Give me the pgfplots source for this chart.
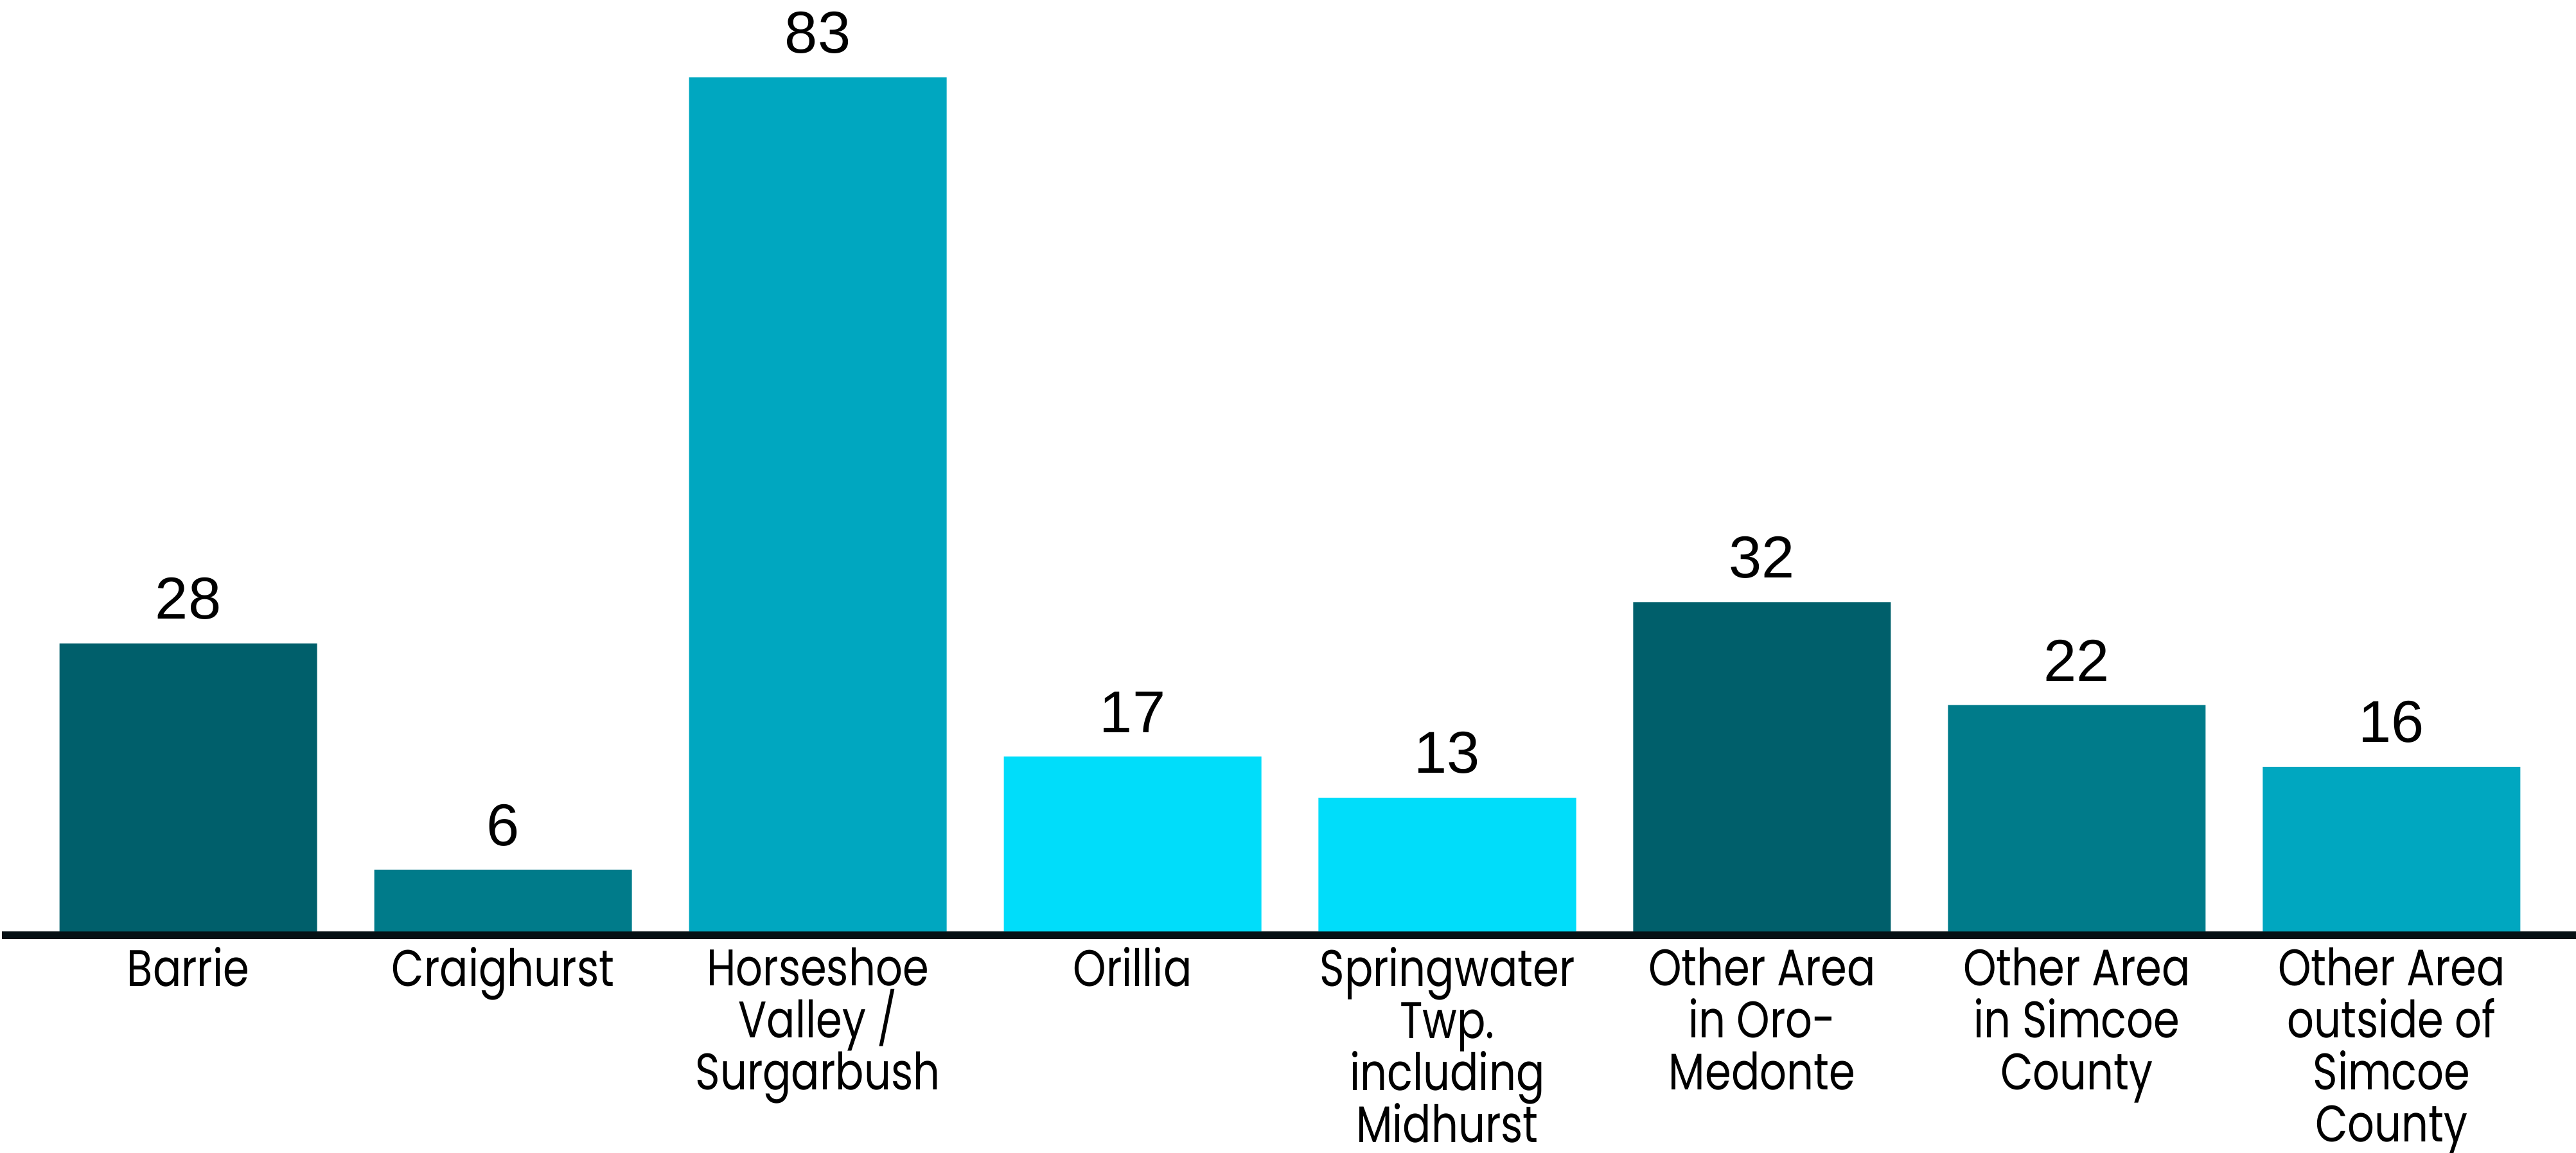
\documentclass[border=0pt]{standalone}
\usepackage{fontspec}
\setmainfont{Poppins}[FakeStretch=0.82]
\newfontfamily\numfont{Liberation Sans}
\usepackage{pgfplots}
\pgfplotsset{compat=1.18}
\definecolor{cdark}{HTML}{005F6B}
\definecolor{cmid}{HTML}{007B8A}
\definecolor{clight}{HTML}{00A7C0}
\definecolor{ccyan}{HTML}{00DDFA}
\definecolor{axisblack}{HTML}{061014}
\newcommand{\labfont}{\fontsize{16}{16.2}\selectfont\lineskiplimit=-30pt\relax}
\begin{document}
\begin{tikzpicture}
\begin{axis}[
 anchor=south west, at={(0pt,0pt)},
 scale only axis, width=801.4pt, height=291.2pt,
 xmin=-0.592, xmax=7.586, ymin=-0.37, ymax=90.52,
 axis x line=bottom, axis y line=none,
 axis line style={-, line width=2.4pt, color=axisblack},
 ybar, bar width=80.2pt, bar shift=0pt,
 xtick={0,...,7},
 xticklabels={Barrie, Craighurst, {Horseshoe\\Valley /\\Surgarbush}, Orillia, {Springwater\\Twp.\\including\\Midhurst}, {Other Area\\in Oro-\\Medonte}, {Other Area\\in Simcoe\\County}, {Other Area\\outside of\\Simcoe\\County}},
 major tick length=0pt,
 xticklabel style={align=center, anchor=north, inner sep=0pt, yshift=-3.6pt, font=\labfont, text=black},
 ytick=\empty,
 /pgf/number format/assume math mode=true,
 nodes near coords,
 nodes near coords style={anchor=south, inner sep=0pt, yshift=7.2pt, font=\numfont\fontsize{18.4}{20}\selectfont, text=black},
]
\addplot[fill=cdark, draw=none] coordinates {(0,28) (5,32)};
\addplot[fill=cmid, draw=none] coordinates {(1,6) (6,22)};
\addplot[fill=clight, draw=none] coordinates {(2,83) (7,16)};
\addplot[fill=ccyan, draw=none] coordinates {(3,17) (4,13)};
\end{axis}
\pgfresetboundingbox
\path (-0.6pt,-67.6pt) rectangle (801.4pt,291.2pt);
\end{tikzpicture}
\end{document}
